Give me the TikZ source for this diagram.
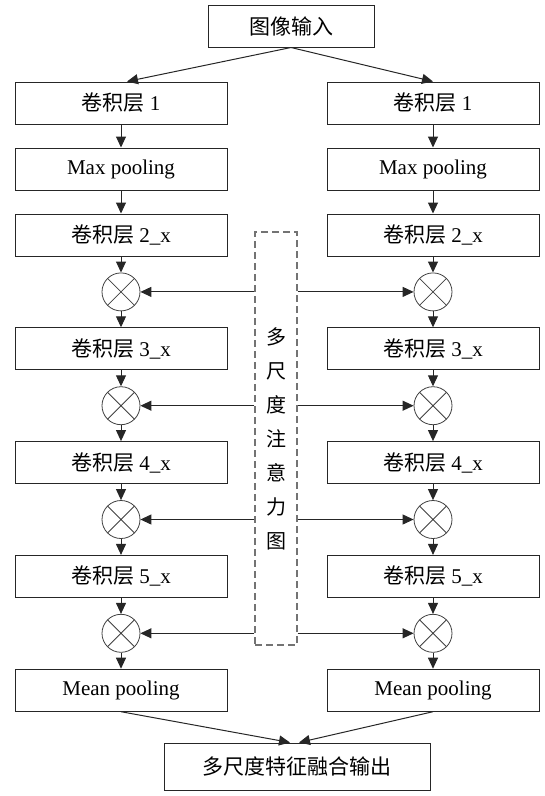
\documentclass[tikz,border=0pt]{standalone}
\usepackage{fontspec}
\setmainfont{Liberation Serif}
\newfontfamily\cjk{Noto Sans CJK SC}
\usepackage{tikz}
\usetikzlibrary{arrows.meta,positioning}

\begin{document}
\begin{tikzpicture}[
  x=1pt, y=1pt,
  node distance=16pt,
  box/.style={draw=black!85, line width=1pt, minimum width=212pt,
              minimum height=42pt, inner sep=0pt,
              font=\fontsize{21}{24}\selectfont},
  mult/.style={draw=black!75, circle, minimum size=38pt, inner sep=0pt,
               line width=0.8pt,
               path picture={\draw[black!75, line width=0.8pt]
                 (path picture bounding box.north west) -- (path picture bounding box.south east)
                 (path picture bounding box.north east) -- (path picture bounding box.south west);}},
  attnbox/.style={draw=black!55, line width=1.3pt, dash pattern=on 7pt off 4pt,
                  minimum width=42pt, minimum height=413pt, inner sep=0pt,
                  align=center, font=\cjk\fontsize{20}{34}\selectfont},
  arrow/.style={-{Triangle[length=11pt,width=10pt]}, line width=1pt, black!85}
]
  \useasboundingbox (0,0) rectangle (545,-796);

  \node[box, minimum width=166pt] (input) at (291,-26) {{\cjk 图像输入}};

  % left branch
  \node[box] (lconv1) at (121,-103) {{\cjk 卷积层} 1};
  \node[box, below=23pt of lconv1] (lmax) {Max pooling};
  \node[box, below=23pt of lmax] (lconv2) {{\cjk 卷积层} 2\_x};
  \node[mult, below=of lconv2] (lmul2) {};
  \node[box, below=of lmul2] (lconv3) {{\cjk 卷积层} 3\_x};
  \node[mult, below=of lconv3] (lmul3) {};
  \node[box, below=of lmul3] (lconv4) {{\cjk 卷积层} 4\_x};
  \node[mult, below=of lconv4] (lmul4) {};
  \node[box, below=of lmul4] (lconv5) {{\cjk 卷积层} 5\_x};
  \node[mult, below=of lconv5] (lmul5) {};
  \node[box, below=of lmul5] (lmean) {Mean pooling};

  % right branch
  \node[box] (rconv1) at (433,-103) {{\cjk 卷积层} 1};
  \node[box, below=23pt of rconv1] (rmax) {Max pooling};
  \node[box, below=23pt of rmax] (rconv2) {{\cjk 卷积层} 2\_x};
  \node[mult, below=of rconv2] (rmul2) {};
  \node[box, below=of rmul2] (rconv3) {{\cjk 卷积层} 3\_x};
  \node[mult, below=of rconv3] (rmul3) {};
  \node[box, below=of rmul3] (rconv4) {{\cjk 卷积层} 4\_x};
  \node[mult, below=of rconv4] (rmul4) {};
  \node[box, below=of rmul4] (rconv5) {{\cjk 卷积层} 5\_x};
  \node[mult, below=of rconv5] (rmul5) {};
  \node[box, below=of rmul5] (rmean) {Mean pooling};

  \node[attnbox] (attn) at (276,-438.5) {多\\尺\\度\\注\\意\\力\\图};

  \node[box, minimum width=266pt, minimum height=47pt] (output) at (297,-766.5)
    {{\cjk 多尺度特征融合输出}};

  \draw[arrow] (input.south) -- ([xshift=6pt]lconv1.north);
  \draw[arrow] (input.south) -- (rconv1.north);

  \draw[arrow] (lconv1) -- (lmax);
  \draw[arrow] (lmax) -- (lconv2);
  \draw[arrow] (lconv2) -- (lmul2);
  \draw[arrow] (lmul2) -- (lconv3);
  \draw[arrow] (lconv3) -- (lmul3);
  \draw[arrow] (lmul3) -- (lconv4);
  \draw[arrow] (lconv4) -- (lmul4);
  \draw[arrow] (lmul4) -- (lconv5);
  \draw[arrow] (lconv5) -- (lmul5);
  \draw[arrow] (lmul5) -- (lmean);

  \draw[arrow] (rconv1) -- (rmax);
  \draw[arrow] (rmax) -- (rconv2);
  \draw[arrow] (rconv2) -- (rmul2);
  \draw[arrow] (rmul2) -- (rconv3);
  \draw[arrow] (rconv3) -- (rmul3);
  \draw[arrow] (rmul3) -- (rconv4);
  \draw[arrow] (rconv4) -- (rmul4);
  \draw[arrow] (rmul4) -- (rconv5);
  \draw[arrow] (rconv5) -- (rmul5);
  \draw[arrow] (rmul5) -- (rmean);

  \draw[arrow] (attn.west |- lmul2) -- (lmul2);
  \draw[arrow] (attn.west |- lmul3) -- (lmul3);
  \draw[arrow] (attn.west |- lmul4) -- (lmul4);
  \draw[arrow] (attn.west |- lmul5) -- (lmul5);
  \draw[arrow] (attn.east |- rmul2) -- (rmul2);
  \draw[arrow] (attn.east |- rmul3) -- (rmul3);
  \draw[arrow] (attn.east |- rmul4) -- (rmul4);
  \draw[arrow] (attn.east |- rmul5) -- (rmul5);

  \draw[arrow] (lmean.south) -- ([xshift=-7pt]output.north);
  \draw[arrow] (rmean.south) -- ([xshift=2pt]output.north);
\end{tikzpicture}
\end{document}
